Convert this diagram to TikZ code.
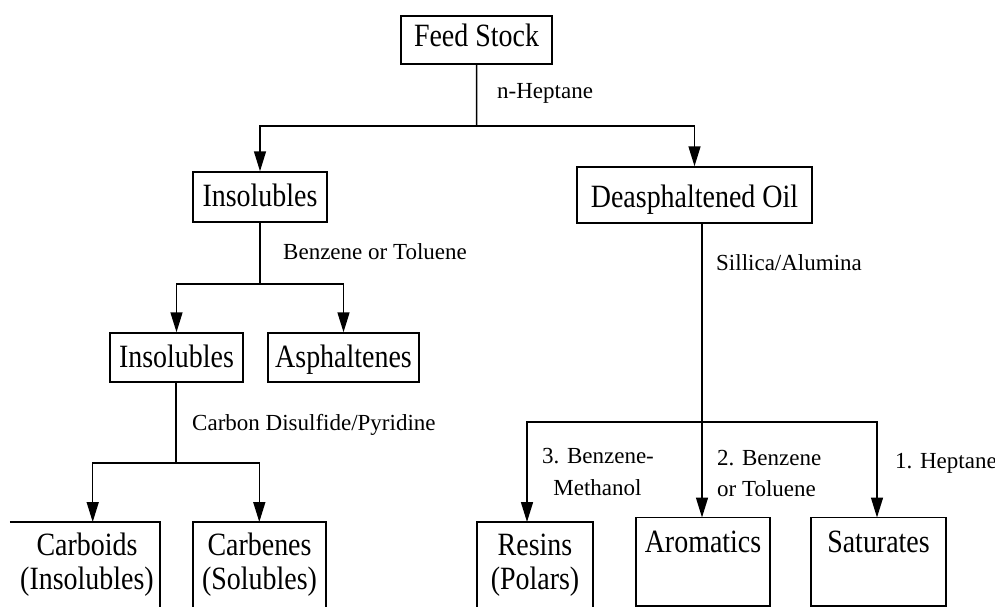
\documentclass[tikz,border=0pt]{standalone}
\usepackage{fontspec}
\setmainfont{Liberation Serif}
\newfontfamily\boxfont[FakeStretch=0.86]{Liberation Serif}
\usetikzlibrary{arrows.meta}
\begin{document}
\begin{tikzpicture}[x=1pt,y=-1pt,
  box/.style={draw, line width=1.5pt, inner sep=0pt},
  hidbox/.style={inner sep=0pt},
  edge/.style={line width=1.5pt},
  conn/.style={line width=1.5pt, -{Triangle[length=20pt,width=12pt]}},
  btext/.style={font=\boxfont\fontsize{32.5}{34}\selectfont, inner sep=0pt},
  ltext/.style={font=\fontsize{23}{28}\selectfont, inner sep=0pt}]
\useasboundingbox (0,0) rectangle (995,607);
\clip (0,0) rectangle (995,607);

% boxes
\node[box, minimum width=151pt, minimum height=48pt] (feed) at (476.5,40) {};
\node[box, minimum width=134pt, minimum height=50pt] (ins1) at (260,197) {};
\node[box, minimum width=235pt, minimum height=56pt] (deas) at (694.5,195) {};
\node[box, minimum width=133pt, minimum height=49pt] (ins2) at (176.5,357.5) {};
\node[box, minimum width=151pt, minimum height=49pt] (asph) at (343.5,357.5) {};
\node[hidbox, minimum width=150pt, minimum height=110pt] (carb) at (85,577) {};
\node[box, minimum width=133pt, minimum height=110pt] (cben) at (259.5,577) {};
\node[box, minimum width=116pt, minimum height=110pt] (resin) at (535,577) {};
\node[box, minimum width=134pt, minimum height=88.5pt] (arom) at (703,561.75) {};
\node[box, minimum width=135pt, minimum height=88.5pt] (satu) at (878.5,561.75) {};
\draw[edge] (carb.north west) -- (carb.north east) -- (carb.south east);

% box texts
\node[btext, anchor=base] (tfeed) at (476.5,47) {Feed Stock};
\node[btext, anchor=base] (tins1) at (260,206) {Insolubles};
\node[btext, anchor=base] (tdeas) at (694.5,207) {Deasphaltened Oil};
\node[btext, anchor=base] (tins2) at (176.5,367) {Insolubles};
\node[btext, anchor=base] (tasph) at (343.5,367) {Asphaltenes};
\node[btext, anchor=base] (tcarbA) at (87,555) {Carboids};
\node[btext, anchor=base] (tcarbB) at (87,589) {(Insolubles)};
\node[btext, anchor=base] (tcbenA) at (259.5,555) {Carbenes};
\node[btext, anchor=base] (tcbenB) at (259.5,589) {(Solubles)};
\node[btext, anchor=base] (tresA) at (535,555) {Resins};
\node[btext, anchor=base] (tresB) at (535,589.5) {(Polars)};
\node[btext, anchor=base] (tarom) at (703,552) {Aromatics};
\node[btext, anchor=base] (tsatu) at (878.5,552) {Saturates};

% labels
\node[ltext, anchor=base west] (lhep) at (497,99) {n-Heptane};
\node[ltext, anchor=base west] (lbt) at (283,259.3) {Benzene or Toluene};
\node[ltext, anchor=base west] (lsil) at (716,270) {Sillica/Alumina};
\node[ltext, anchor=base west] (lcs) at (192,430) {Carbon Disulfide/Pyridine};
\node[ltext, anchor=base] (l3a) at (598,463) {3. Benzene-};
\node[ltext, anchor=base] (l3b) at (597.5,495) {Methanol};
\node[ltext, anchor=base west] (l2a) at (717,465) {2. Benzene};
\node[ltext, anchor=base west] (l2b) at (717,496.7) {or Toluene};
\node[ltext, anchor=base west] (l1) at (895,468) {1. Heptane};

% junctions
\coordinate (j1) at (476.7,126);
\coordinate (j2) at (260,284);
\coordinate (j3) at (176,463);
\coordinate (j4) at (702,422);
\coordinate (acarb) at (92.7,522);
\coordinate (acben) at (259.3,522);
\coordinate (ares) at (527,522);
\coordinate (aaro) at (702,517.5);
\coordinate (asat) at (877,517.5);

% connectors
\draw[edge] (feed.south) -- (j1);
\draw[conn] (j1) -| (ins1.north);
\draw[conn] (j1) -| (deas.north);
\draw[edge] (ins1.south) -- (j2);
\draw[conn] (j2) -| (ins2.north);
\draw[conn] (j2) -| (asph.north);
\draw[edge] (ins2.south -| j3) -- (j3);
\draw[conn] (j3) -| (acarb);
\draw[conn] (j3) -| (acben);
\draw[edge] (deas.south -| j4) -- (j4);
\draw[conn] (j4) -| (ares);
\draw[conn] (j4) -- (aaro);
\draw[conn] (j4) -| (asat);
\end{tikzpicture}
\end{document}
